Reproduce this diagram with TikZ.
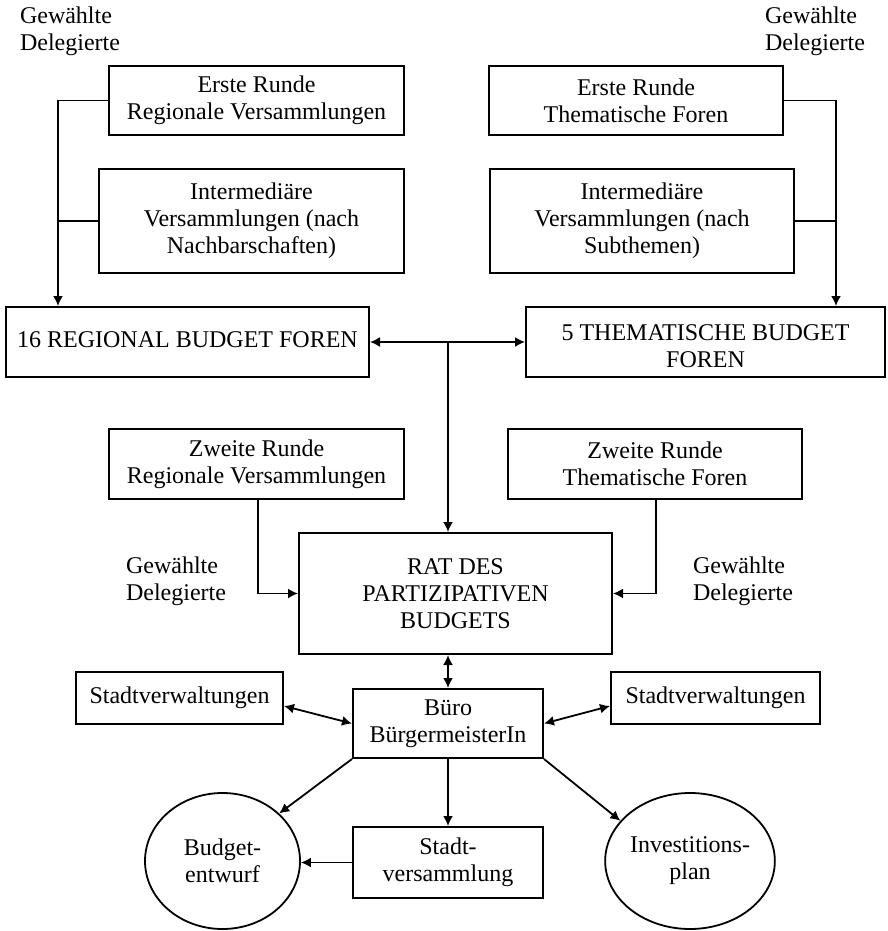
\documentclass[tikz,border=0pt]{standalone}
\usepackage{fontspec}
\setmainfont{Liberation Serif}
\usetikzlibrary{calc, positioning, arrows.meta, shapes.geometric}
\tikzset{
	x = .5pt,
	y = -.5pt,
	font = \fontsize{12}{13.5}\selectfont,
	>={Latex[length=5pt, width=5pt]},
	box/.style={
		draw,
		line width=1pt,
		align=center,
		inner sep=0pt
	},
	oval/.style={
		draw,
		ellipse,
		line width=.9pt,
		align=center,
		inner sep=0pt
	},
	label text/.style={
		align=left,
		inner sep=0pt
	},
	edge/.style={
		->,
		line width=.9pt
	},
	line/.style={
		line width=.9pt
	}
}

\begin{document}
\begin{tikzpicture}
\useasboundingbox (0,0) rectangle (888,931);

% ---
% First round
% ---
\node[box, minimum width=147.5pt, minimum height=34.5pt] (er1) at (256.5,100.5) {Erste Runde\\Regionale Versammlungen};
\node[box, minimum width=152.5pt, minimum height=52pt] (im1) at (251.5,221) {Intermedi\"are\\Versammlungen (nach\\Nachbarschaften)};
\node[box, minimum width=147pt, minimum height=34.5pt] (er2) at (636,100.5) {Erste Runde\\Thematische Foren};
\node[box, minimum width=152pt, minimum height=52pt] (im2) at (642,221) {Intermedi\"are\\Versammlungen (nach\\Subthemen)};

\node[label text] (gd1) at (70,31) {Gew\"ahlte\\Delegierte};
\node[label text] (gd2) at (815,31) {Gew\"ahlte\\Delegierte};

% ---
% Budget fora
% ---
\node[box, minimum width=181.5pt, minimum height=35pt] (reg) at (187.5,342) {\raisebox{2.5pt}{16 REGIONAL BUDGET FOREN}};
\node[box, minimum width=179.5pt, minimum height=35pt] (them) at (705.5,342) {\raisebox{0pt}[\dimexpr\height+7pt\relax]{\begin{tabular}{@{}c@{}}5 THEMATISCHE BUDGET\\FOREN\end{tabular}}};

\coordinate (lx) at (58,0);
\coordinate (rx) at (836,0);
\coordinate (mid) at (448,342);

\draw[edge] (er1.west) -| (lx |- reg.north);
\draw[line] (im1.west) -- (im1.west -| lx);
\draw[edge] (er2.east) -| (rx |- them.north);
\draw[line] (im2.east) -- (im2.east -| rx);
\draw[edge, <->] (reg.east) -- (them.west);

% ---
% Second round and council
% ---
\node[box, minimum width=147.5pt, minimum height=35pt] (zw1) at (256.5,464) {Zweite Runde\\Regionale Versammlungen};
\node[box, minimum width=147pt, minimum height=35pt] (zw2) at (655,464) {Zweite Runde\\Thematische Foren};
\node[box, minimum width=156.5pt, minimum height=60.5pt] (rat) at (455.5,593.5) {RAT DES\\PARTIZIPATIVEN\\BUDGETS};

\node[label text] (gd3) at (176,581) {Gew\"ahlte\\Delegierte};
\node[label text] (gd4) at (743,581) {Gew\"ahlte\\Delegierte};

\draw[edge] (mid) -- (mid |- rat.north);
\draw[edge] ($(zw1.south)+(1.5,0)$) |- (rat.west);
\draw[edge] ($(zw2.south)+(1,0)$) |- (rat.east);

% ---
% Mayor's office
% ---
\node[box, minimum width=103.5pt, minimum height=26pt] (sv1) at (179.5,698) {Stadtverwaltungen};
\node[box, minimum width=104.5pt, minimum height=26pt] (sv2) at (715.5,698) {Stadtverwaltungen};
\node[box, minimum width=95pt, minimum height=34.5pt] (buero) at (448,723.5) {B\"uro\\B\"urgermeisterIn};
\node[box, minimum width=95pt, minimum height=35.5pt] (stadt) at (448,862.5) {Stadt-\\versammlung};
\node[oval, minimum width=77.5pt, minimum height=68pt] (bud) at (222.5,861) {Budget-\\entwurf};
\node[oval, minimum width=78pt, minimum height=68pt] (inv) at (690,861) {Investitions-\\plan};

\draw[edge, <->] (rat.south -| buero.north) -- (buero.north);
\draw[edge, <->] ($(sv1.east)+(0,8)$) -- (buero.west);
\draw[edge, <->] (buero.east) -- ($(sv2.west)+(0,8)$);
\draw[edge] (buero.south west) -- (bud.40);
\draw[edge] (buero.south) -- (stadt.north);
\draw[edge] (buero.south east) -- (inv.150);
\draw[edge] (stadt.west) -- (bud.east |- stadt.west);
\end{tikzpicture}
\end{document}
